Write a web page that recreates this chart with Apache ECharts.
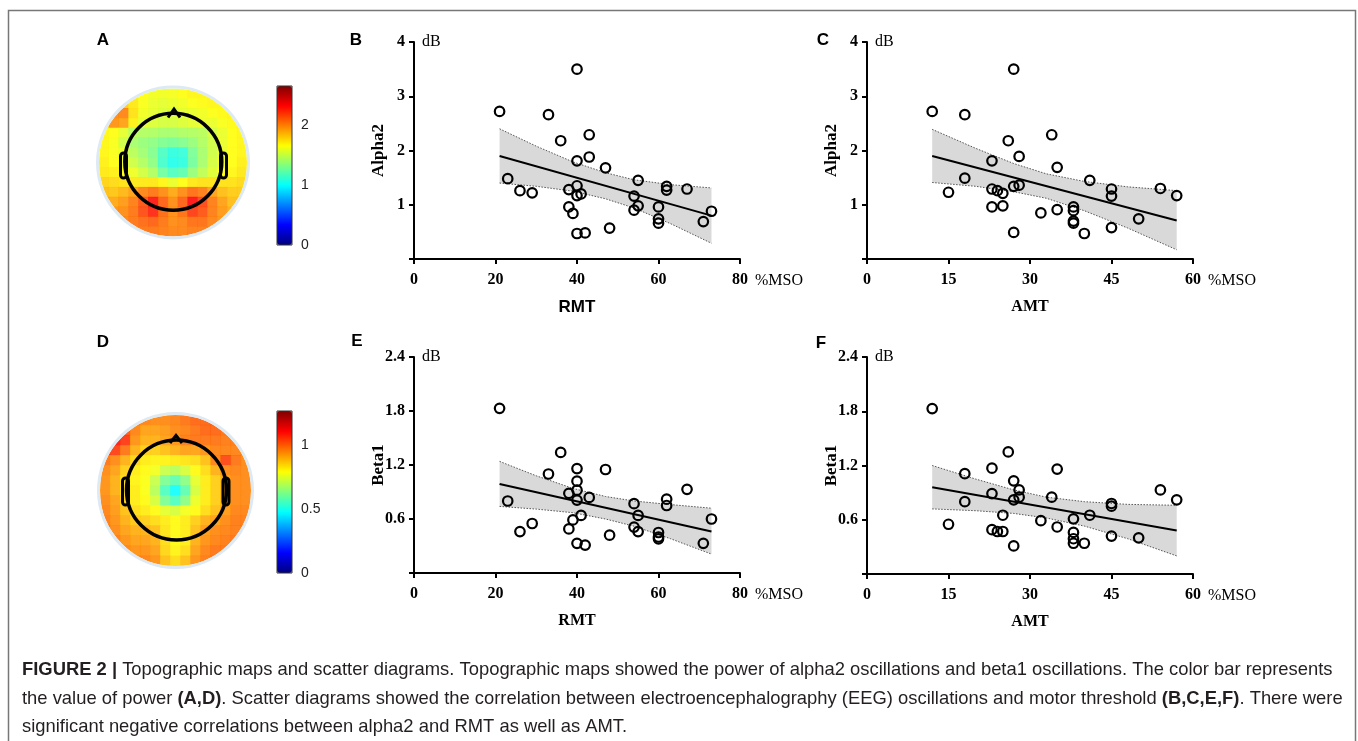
<!DOCTYPE html>
<html>
<head>
<meta charset="utf-8">
<script src="https://cdn.jsdelivr.net/npm/echarts@6/dist/echarts.min.js"></script>
<style>
html, body { margin: 0; padding: 0; background: #fff; }
#chart { width: 1358px; height: 741px; }
</style>
</head>
<body>
<div id="chart"></div>
<script>
const SERIF = 'Liberation Serif, Times New Roman, serif';
const SANS = 'Liberation Sans, Arial, sans-serif';
const JET = ['#00007f', '#0000ff', '#007fff', '#00ffff', '#7fff7f', '#ffff00', '#ff7f00', '#ff0000', '#7f0000'];

// B: RMT vs alpha2
const bRmt = [21, 40, 33, 36, 43, 43, 40, 47, 23, 26, 29, 38, 40, 40, 41, 38, 39, 40, 42, 48, 55, 54, 54, 55, 60, 60, 60, 62, 62, 67, 71, 73];
const bAlpha2 = [2.72, 3.50, 2.66, 2.18, 2.29, 1.88, 1.81, 1.68, 1.48, 1.26, 1.22, 1.28, 1.35, 1.17, 1.20, 0.96, 0.84, 0.47, 0.48, 0.57, 1.45, 1.16, 0.90, 0.98, 0.96, 0.74, 0.66, 1.34, 1.27, 1.29, 0.69, 0.88];
// C: AMT vs alpha2
const cAmt = [12, 27, 18, 26, 34, 28, 23, 35, 18, 15, 23, 24, 25, 27, 28, 23, 25, 27, 32, 35, 38, 38, 38, 38, 40, 41, 45, 45, 45, 50, 54, 57];
const cAlpha2 = [2.72, 3.50, 2.66, 2.18, 2.29, 1.89, 1.81, 1.69, 1.49, 1.23, 1.29, 1.26, 1.21, 1.34, 1.36, 0.96, 0.98, 0.49, 0.85, 0.91, 0.96, 0.89, 0.70, 0.66, 0.47, 1.45, 1.29, 1.16, 0.58, 0.74, 1.30, 1.17];
// E: RMT vs beta1
const eRmt = [21, 36, 33, 40, 47, 40, 40, 38, 40, 43, 23, 41, 39, 26, 29, 38, 40, 42, 48, 54, 55, 54, 55, 60, 60, 60, 62, 62, 67, 71, 73];
const eBeta1 = [1.83, 1.34, 1.10, 1.16, 1.15, 1.02, 0.92, 0.885, 0.81, 0.84, 0.80, 0.64, 0.59, 0.46, 0.55, 0.49, 0.33, 0.31, 0.42, 0.77, 0.64, 0.51, 0.46, 0.45, 0.40, 0.38, 0.82, 0.75, 0.93, 0.33, 0.60];
// F: AMT vs beta1
const fAmt = [12, 26, 18, 23, 35, 27, 28, 23, 28, 27, 34, 18, 25, 15, 23, 24, 25, 27, 32, 35, 38, 38, 38, 38, 40, 41, 45, 45, 45, 50, 54, 57];
const fBeta1 = [1.83, 1.35, 1.11, 1.17, 1.16, 1.03, 0.93, 0.89, 0.85, 0.82, 0.85, 0.80, 0.65, 0.55, 0.49, 0.47, 0.47, 0.31, 0.59, 0.52, 0.61, 0.46, 0.39, 0.34, 0.34, 0.65, 0.78, 0.75, 0.42, 0.40, 0.93, 0.82];

// fitted lines and 95% bands
const rmtBandX = [21, 30, 39, 47, 54, 63, 73];
const amtBandX = [12, 20, 27, 33, 40, 48, 57];
const bUpper = [2.40, 2.08, 1.79, 1.59, 1.46, 1.37, 1.31];
const bLower = [1.40, 1.34, 1.25, 1.11, 0.94, 0.65, 0.29];
const bFit = [[21, 1.90], [73, 0.80]];
const cUpper = [2.39, 2.04, 1.76, 1.57, 1.43, 1.33, 1.26];
const cLower = [1.41, 1.34, 1.24, 1.12, 0.89, 0.57, 0.17];
const cFit = [[12, 1.90], [57, 0.71]];
const eUpper = [1.24, 1.08, 0.94, 0.85, 0.80, 0.76, 0.72];
const eLower = [0.74, 0.71, 0.67, 0.60, 0.52, 0.38, 0.21];
const eFit = [[21, 0.99], [73, 0.46]];
const fUpper = [1.20, 1.05, 0.93, 0.85, 0.80, 0.77, 0.76];
const fLower = [0.72, 0.70, 0.67, 0.62, 0.53, 0.39, 0.20];
const fFit = [[12, 0.96], [57, 0.48]];

// topographic maps, 15 x 15 cells, top row first
const topoAlpha2 = [
  [1.68, 1.68, 1.68, 1.68, 1.66, 1.62, 1.62, 1.63, 1.66, 1.68, 1.68, 1.68, 1.68, 1.68, 1.68],
  [1.70, 1.76, 1.80, 1.72, 1.64, 1.60, 1.58, 1.60, 1.62, 1.65, 1.67, 1.68, 1.68, 1.68, 1.68],
  [1.74, 1.98, 2.00, 1.74, 1.62, 1.58, 1.56, 1.56, 1.58, 1.60, 1.62, 1.65, 1.67, 1.68, 1.68],
  [1.72, 1.96, 1.92, 1.70, 1.58, 1.56, 1.54, 1.54, 1.56, 1.58, 1.60, 1.60, 1.64, 1.67, 1.68],
  [1.68, 1.66, 1.58, 1.46, 1.44, 1.43, 1.41, 1.41, 1.43, 1.44, 1.46, 1.54, 1.60, 1.66, 1.68],
  [1.68, 1.64, 1.52, 1.41, 1.37, 1.34, 1.30, 1.28, 1.31, 1.37, 1.44, 1.52, 1.60, 1.66, 1.68],
  [1.68, 1.64, 1.58, 1.46, 1.39, 1.31, 1.16, 1.08, 1.10, 1.29, 1.41, 1.52, 1.60, 1.66, 1.68],
  [1.70, 1.66, 1.62, 1.52, 1.44, 1.34, 1.14, 1.05, 1.08, 1.27, 1.41, 1.54, 1.62, 1.66, 1.70],
  [1.72, 1.70, 1.66, 1.61, 1.53, 1.44, 1.26, 1.17, 1.21, 1.37, 1.48, 1.57, 1.66, 1.68, 1.72],
  [1.78, 1.76, 1.74, 1.72, 1.72, 1.72, 1.68, 1.60, 1.66, 1.72, 1.74, 1.74, 1.74, 1.74, 1.76],
  [1.84, 1.82, 1.86, 1.92, 2.00, 2.04, 1.98, 1.90, 1.98, 2.06, 2.02, 1.92, 1.84, 1.80, 1.80],
  [1.90, 1.90, 1.94, 2.02, 2.14, 2.30, 2.10, 1.98, 2.10, 2.32, 2.18, 2.02, 1.92, 1.84, 1.82],
  [1.94, 1.96, 1.98, 2.04, 2.16, 2.26, 2.08, 1.98, 2.06, 2.20, 2.14, 2.02, 1.94, 1.88, 1.86],
  [1.98, 1.98, 2.00, 2.04, 2.08, 2.10, 2.04, 1.98, 2.00, 2.06, 2.06, 2.00, 1.96, 1.92, 1.90],
  [1.98, 1.98, 2.00, 2.02, 2.04, 2.04, 2.02, 2.00, 2.00, 2.02, 2.02, 2.00, 1.96, 1.94, 1.92]
];
const topoBeta1 = [
  [0.98, 1.00, 1.00, 0.98, 0.96, 0.95, 0.95, 0.96, 0.98, 1.00, 1.00, 1.00, 0.98, 0.98, 0.98],
  [1.05, 1.05, 1.02, 0.96, 0.92, 0.92, 0.93, 0.95, 0.96, 0.98, 1.00, 1.00, 0.98, 0.98, 0.98],
  [1.10, 1.10, 1.06, 0.94, 0.90, 0.90, 0.92, 0.94, 0.97, 0.98, 0.98, 0.98, 0.97, 0.97, 0.97],
  [1.05, 1.05, 0.98, 0.90, 0.86, 0.86, 0.88, 0.90, 0.92, 0.92, 0.94, 0.96, 0.96, 0.96, 0.96],
  [0.98, 0.95, 0.90, 0.85, 0.82, 0.81, 0.81, 0.82, 0.83, 0.84, 0.88, 0.96, 1.04, 0.98, 0.95],
  [0.95, 0.92, 0.86, 0.82, 0.80, 0.78, 0.72, 0.70, 0.74, 0.80, 0.84, 0.90, 0.95, 0.96, 0.95],
  [0.94, 0.90, 0.84, 0.81, 0.79, 0.72, 0.62, 0.58, 0.64, 0.76, 0.82, 0.86, 0.92, 0.95, 0.95],
  [0.94, 0.90, 0.84, 0.82, 0.79, 0.70, 0.56, 0.48, 0.58, 0.74, 0.82, 0.86, 0.92, 0.95, 0.95],
  [0.95, 0.92, 0.86, 0.82, 0.80, 0.74, 0.62, 0.56, 0.64, 0.77, 0.82, 0.86, 0.92, 0.95, 0.95],
  [0.96, 0.93, 0.88, 0.84, 0.82, 0.80, 0.76, 0.74, 0.78, 0.80, 0.84, 0.88, 0.93, 0.96, 0.96],
  [0.97, 0.94, 0.90, 0.87, 0.86, 0.84, 0.82, 0.80, 0.82, 0.86, 0.90, 0.92, 0.95, 0.97, 0.97],
  [0.98, 0.95, 0.92, 0.90, 0.90, 0.88, 0.83, 0.80, 0.82, 0.88, 0.93, 0.95, 0.96, 0.97, 0.97],
  [1.00, 0.97, 0.94, 0.92, 0.92, 0.90, 0.84, 0.80, 0.82, 0.90, 0.94, 0.96, 0.97, 0.98, 0.98],
  [1.04, 1.00, 0.96, 0.94, 0.94, 0.92, 0.85, 0.81, 0.84, 0.92, 0.96, 0.98, 0.98, 0.98, 0.98],
  [1.06, 1.04, 0.98, 0.96, 0.96, 0.94, 0.88, 0.84, 0.88, 0.94, 0.97, 0.98, 0.98, 0.98, 0.98]
];
const alpha2Range = [0, 2.65];
const beta1Range = [0, 1.27];

const caption = [
  '{b|FIGURE 2 |} Topographic maps and scatter diagrams. Topographic maps showed the power of alpha2 oscillations and beta1 oscillations. The color bar represents',
  'the value of power {b|(A,D)}. Scatter diagrams showed the correlation between electroencephalography (EEG) oscillations and motor threshold {b|(B,C,E,F)}. There were',
  'significant negative correlations between alpha2 and RMT as well as AMT.'
];

const panels = [
  { box: [414, 42, 326, 217], xMax: 80, xInt: 20, yMax: 4, yInt: 1, dec: 0, yName: 'Alpha2', xName: 'RMT', sansX: true,
    xs: bRmt, ys: bAlpha2, bandX: rmtBandX, up: bUpper, lo: bLower, fit: bFit },
  { box: [867, 42, 326, 217], xMax: 60, xInt: 15, yMax: 4, yInt: 1, dec: 0, yName: 'Alpha2', xName: 'AMT', sansX: false,
    xs: cAmt, ys: cAlpha2, bandX: amtBandX, up: cUpper, lo: cLower, fit: cFit },
  { box: [414, 357, 326, 216], xMax: 80, xInt: 20, yMax: 2.4, yInt: 0.6, dec: 1, yName: 'Beta1', xName: 'RMT', sansX: false,
    xs: eRmt, ys: eBeta1, bandX: rmtBandX, up: eUpper, lo: eLower, fit: eFit },
  { box: [867, 357, 326, 217], xMax: 60, xInt: 15, yMax: 2.4, yInt: 0.6, dec: 1, yName: 'Beta1', xName: 'AMT', sansX: false,
    xs: fAmt, ys: fBeta1, bandX: amtBandX, up: fUpper, lo: fLower, fit: fFit }
];

const grids = [], xAxes = [], yAxes = [], series = [];
const hidden = { axisLine: { show: false }, axisTick: { show: false }, axisLabel: { show: false }, splitLine: { show: false } };
const tickFont = { fontFamily: SERIF, fontWeight: 'bold', fontSize: 16, color: '#000' };

panels.forEach((p, k) => {
  grids.push({ left: p.box[0], top: p.box[1], width: p.box[2], height: p.box[3] });
  xAxes.push({
    gridIndex: k, type: 'value', min: 0, max: p.xMax, interval: p.xInt, position: 'bottom',
    name: '%MSO', nameLocation: 'end', nameGap: 15,
    nameTextStyle: { fontFamily: SERIF, fontSize: 16, color: '#000', align: 'left', verticalAlign: 'top', padding: [14, 0, 0, 0] },
    axisLine: { onZero: false, lineStyle: { color: '#000', width: 2 } },
    axisTick: { length: 5, lineStyle: { color: '#000', width: 2 } },
    axisLabel: Object.assign({ margin: 13 }, tickFont),
    splitLine: { show: false }
  });
  xAxes.push(Object.assign({
    gridIndex: k, type: 'value', min: 0, max: p.xMax, position: 'bottom',
    name: p.xName, nameLocation: 'middle', nameGap: 40,
    nameTextStyle: p.sansX
      ? { fontFamily: SANS, fontWeight: 'bold', fontSize: 17, color: '#000' }
      : { fontFamily: SERIF, fontWeight: 'bold', fontSize: 16, color: '#000' }
  }, hidden));
  yAxes.push({
    gridIndex: k, type: 'value', min: 0, max: p.yMax, interval: p.yInt, position: 'left',
    name: 'dB', nameLocation: 'end', nameGap: 0,
    nameTextStyle: { fontFamily: SERIF, fontSize: 16, color: '#000', align: 'left', verticalAlign: 'middle', padding: [0, 0, 0, 8] },
    axisLine: { onZero: false, lineStyle: { color: '#000', width: 2 } },
    axisTick: { length: 5, lineStyle: { color: '#000', width: 2 } },
    axisLabel: Object.assign({ margin: 9, formatter: v => v === 0 ? '' : v.toFixed(p.dec) }, tickFont),
    splitLine: { show: false }
  });
  yAxes.push(Object.assign({
    gridIndex: k, type: 'value', min: 0, max: p.yMax, position: 'left',
    name: p.yName, nameLocation: 'middle', nameGap: 27,
    nameTextStyle: { fontFamily: SERIF, fontWeight: 'bold', fontSize: 17, color: '#000' }
  }, hidden));

  const xi = 2 * k;
  // confidence band: grey polygon between the dotted upper and lower edges
  series.push({
    type: 'custom', xAxisIndex: xi, yAxisIndex: xi, silent: true, z: 2,
    data: p.bandX.map((x, i) => [x, p.lo[i], p.up[i]]),
    encode: { x: 0, y: [1, 2] },
    renderItem: (params, api) => {
      if (params.dataIndex !== 0) return null;
      const up = p.bandX.map((x, i) => api.coord([x, p.up[i]]));
      const lo = p.bandX.map((x, i) => api.coord([x, p.lo[i]]));
      const edge = { fill: null, stroke: '#555', lineWidth: 1, lineDash: [1.5, 1.5] };
      return {
        type: 'group', children: [
          { type: 'polygon', shape: { points: up.concat(lo.slice().reverse()) }, style: { fill: '#d9d9d9' } },
          { type: 'polyline', shape: { points: up }, style: edge },
          { type: 'polyline', shape: { points: lo }, style: edge }
        ]
      };
    }
  });
  series.push({
    type: 'line', xAxisIndex: xi, yAxisIndex: xi, symbol: 'none', silent: true, z: 4,
    data: p.fit, lineStyle: { color: '#000', width: 2 }
  });
  series.push({
    type: 'scatter', xAxisIndex: xi, yAxisIndex: xi, silent: true, z: 5,
    symbol: 'circle', symbolSize: 9.5,
    data: p.xs.map((x, i) => [x, p.ys[i]]),
    itemStyle: { color: 'rgba(255,255,255,0)', borderColor: '#000', borderWidth: 2.2, opacity: 1 }
  });
});

// topographic maps and their colour bars
const topos = [
  { rows: topoAlpha2, range: alpha2Range, box: [99, 88.5, 148, 148], bar: [277, 86, 15, 159], tick: 1 },
  { rows: topoBeta1, range: beta1Range, box: [100, 415, 151, 151], bar: [277, 411, 15, 162], tick: 0.5 }
];
const cells = [...Array(15).keys()].map(String);
const visualMaps = [];
topos.forEach(t => {
  const g = grids.length;
  grids.push({ left: t.box[0], top: t.box[1], width: t.box[2], height: t.box[3] });
  xAxes.push(Object.assign({ gridIndex: g, type: 'category', data: cells, show: false }, hidden));
  yAxes.push(Object.assign({ gridIndex: g, type: 'category', data: cells, inverse: true, show: false }, hidden));
  visualMaps.push({
    type: 'continuous', seriesIndex: series.length, min: t.range[0], max: t.range[1],
    inRange: { color: JET }, calculable: false, realtime: false, hoverLink: false,
    left: t.bar[0], top: t.bar[1], itemWidth: t.bar[2], itemHeight: t.bar[3], padding: 0, z: 60
  });
  series.push({
    type: 'heatmap', xAxisIndex: xAxes.length - 1, yAxisIndex: yAxes.length - 1, silent: true, z: 1,
    data: t.rows.flatMap((row, j) => row.map((v, i) => [i, j, v])),
    itemStyle: { borderWidth: 0, opacity: 0.88 }
  });
});
topos.forEach(t => {
  const g = grids.length;
  grids.push({ left: t.bar[0], top: t.bar[1], width: t.bar[2], height: t.bar[3] });
  xAxes.push(Object.assign({ gridIndex: g, type: 'value', min: 0, max: 1, show: false }, hidden));
  yAxes.push({
    gridIndex: g, type: 'value', min: t.range[0], max: t.range[1], interval: t.tick, position: 'right',
    axisLine: { show: false }, axisTick: { show: false }, splitLine: { show: false },
    axisLabel: { margin: 9, fontFamily: SANS, fontSize: 14, color: '#222', showMaxLabel: false }
  });
});

// decorations: frame, circle masks, head outlines, panel letters, caption
const graphics = [
  { type: 'rect', shape: { x: 8.5, y: 10.5, width: 1347, height: 780 }, style: { fill: 'none', stroke: '#777', lineWidth: 1.5 }, z: 0 }
];
const heads = [
  { c: [173, 162.5], r: 74, hr: 48.5, hc: [173.3, 161.7], nose: [[168, 117.5], [174, 109], [180, 117.5]], ears: [[120.5, 153], [220.5, 153]], earH: 25 },
  { c: [175.5, 490.5], r: 75.5, hr: 50, hc: [176.5, 490], nose: [[170, 443], [176, 435.5], [182, 443]], ears: [[122.5, 478], [223, 478]], earH: 27 }
];
heads.forEach(h => {
  graphics.push({ type: 'circle', shape: { cx: h.c[0], cy: h.c[1], r: h.r + 23 }, style: { fill: 'none', stroke: '#fff', lineWidth: 46 }, z: 50, silent: true });
  graphics.push({ type: 'circle', shape: { cx: h.c[0], cy: h.c[1], r: h.r + 1.5 }, style: { fill: 'none', stroke: '#dde9f3', lineWidth: 3 }, z: 51, silent: true });
  graphics.push({ type: 'circle', shape: { cx: h.hc[0], cy: h.hc[1], r: h.hr }, style: { fill: 'none', stroke: '#000', lineWidth: 3.5 }, z: 55, silent: true });
  graphics.push({ type: 'polyline', shape: { points: h.nose }, style: { fill: 'none', stroke: '#000', lineWidth: 3 }, z: 55, silent: true });
  h.ears.forEach(e => graphics.push({
    type: 'rect', shape: { x: e[0], y: e[1], width: 6, height: h.earH, r: 3 }, style: { fill: 'none', stroke: '#000', lineWidth: 3 }, z: 55, silent: true
  }));
});
topos.forEach(t => graphics.push({
  type: 'rect', shape: { x: t.bar[0], y: t.bar[1], width: t.bar[2], height: t.bar[3] }, style: { fill: 'none', stroke: '#333', lineWidth: 1 }, z: 61, silent: true
}));
const letters = [['A', 103, 40], ['B', 356, 40], ['C', 823, 40], ['D', 103, 342], ['E', 357, 341], ['F', 821, 343]];
letters.forEach(l => graphics.push({
  type: 'text', z: 70, silent: true,
  style: { text: l[0], x: l[1], y: l[2], fill: '#000', font: 'bold 17px ' + SANS, align: 'center', verticalAlign: 'middle', textAlign: 'center', textVerticalAlign: 'middle' }
}));
caption.forEach((line, i) => graphics.push({
  type: 'text', z: 70, silent: true,
  style: {
    text: line, x: 22, y: 670 + i * 28.5, fill: '#231f20', font: '18.4px ' + SANS,
    align: 'left', verticalAlign: 'middle', textAlign: 'left', textVerticalAlign: 'middle',
    rich: { b: { fontWeight: 'bold', fontSize: 18.4, fontFamily: SANS, fill: '#231f20' } }
  }
}));

const chart = echarts.init(document.getElementById('chart'), null, { renderer: 'canvas' });
chart.setOption({
  animation: false,
  backgroundColor: '#fff',
  grid: grids,
  xAxis: xAxes,
  yAxis: yAxes,
  visualMap: visualMaps,
  series: series,
  graphic: { elements: graphics }
});
</script>
</body>
</html>
